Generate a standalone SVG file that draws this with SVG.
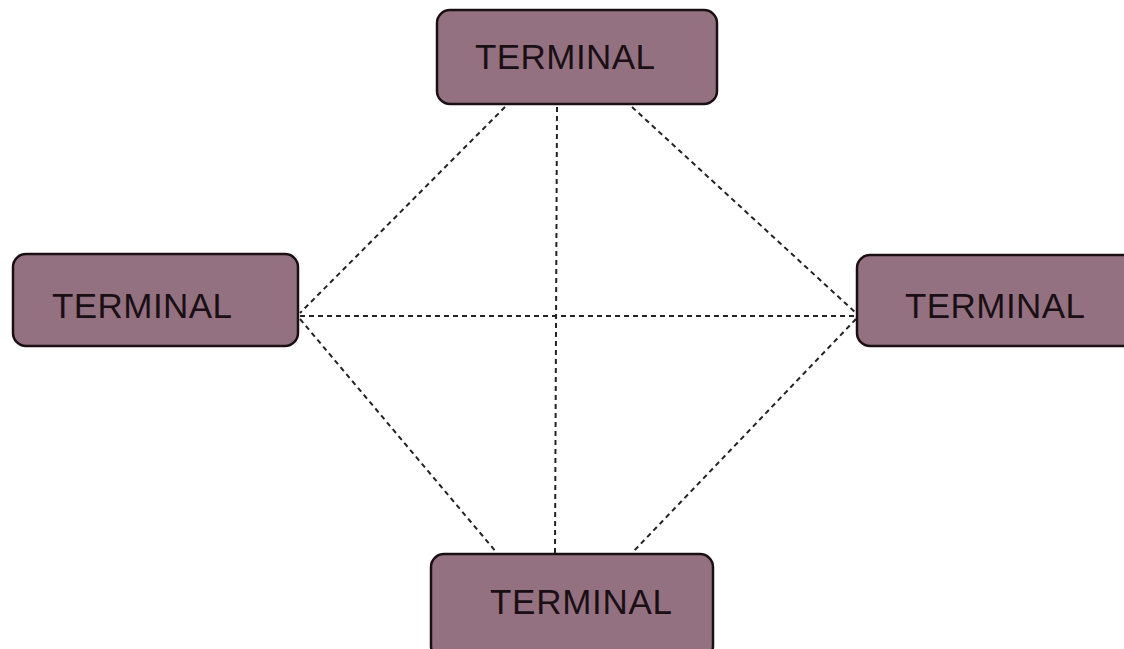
<svg xmlns="http://www.w3.org/2000/svg" width="1124" height="649" viewBox="0 0 1124 649">
<style>
.box{fill:#947180;stroke:#1a1014;stroke-width:2.5}
.lbl{font-family:"Liberation Sans",Arial,sans-serif;font-size:35px;fill:#1a0f14}
.edge{stroke:#222;stroke-width:2;stroke-dasharray:5 4;fill:none}
</style>
<rect width="1124" height="649" fill="#ffffff"/>
<g id="connectors">
<line class="edge" x1="505" y1="107" x2="300" y2="313"/>
<line class="edge" x1="557" y1="107" x2="555" y2="553"/>
<line class="edge" x1="632" y1="107" x2="856" y2="313"/>
<line class="edge" x1="300" y1="316" x2="856" y2="316"/>
<line class="edge" x1="300" y1="319" x2="497" y2="553"/>
<line class="edge" x1="856" y1="319" x2="632" y2="553"/>
</g>
<g id="node-top">
<rect class="box" x="437" y="10" width="280" height="94" rx="13"/>
<text class="lbl" x="475" y="69" textLength="180">TERMINAL</text>
</g>
<g id="node-left">
<rect class="box" x="13" y="254" width="285" height="92" rx="13"/>
<text class="lbl" x="52" y="318" textLength="180">TERMINAL</text>
</g>
<g id="node-right">
<rect class="box" x="857" y="255" width="280" height="91" rx="13"/>
<text class="lbl" x="905" y="318" textLength="180">TERMINAL</text>
</g>
<g id="node-bottom">
<rect class="box" x="431" y="554" width="282" height="105" rx="13"/>
<text class="lbl" x="490" y="614" textLength="182">TERMINAL</text>
</g>
</svg>
